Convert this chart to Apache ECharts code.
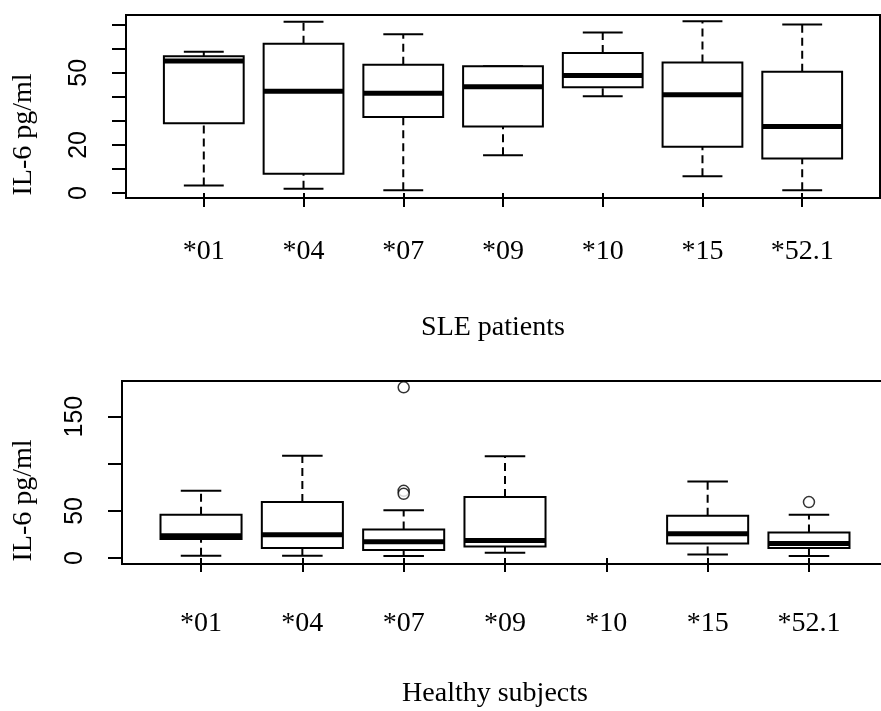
<!DOCTYPE html>
<html>
<head>
<meta charset="utf-8">
<script src="https://cdn.jsdelivr.net/npm/echarts@6/dist/echarts.min.js"></script>
<style>
html, body { margin: 0; padding: 0; background: #fff; }
#chart { width: 881px; height: 711px; }
</style>
</head>
<body>
<div id="chart"></div>
<script>
var groups = ['*01', '*04', '*07', '*09', '*10', '*15', '*52.1'];
// [lower whisker, Q1, median, Q3, upper whisker]
var sleStats = [
    [3.1, 29.0, 54.9, 56.9, 58.7],
    [1.8, 8.0, 42.3, 62.1, 71.2],
    [1.1, 31.6, 41.5, 53.3, 66.0],
    [15.7, 27.6, 44.2, 52.7, 52.7],
    [40.2, 44.0, 48.9, 58.2, 66.7],
    [7.0, 19.2, 40.8, 54.3, 71.4],
    [1.1, 14.3, 27.6, 50.4, 70.0]
];
var healthyStats = [
    [2.4, 20.1, 23.6, 45.9, 71.3],
    [2.4, 10.6, 24.7, 59.3, 108.4],
    [2.1, 8.5, 17.3, 30.3, 50.8],
    [5.6, 12.3, 18.6, 64.6, 108.0],
    null,
    [3.8, 15.5, 25.7, 44.8, 81.1],
    [2.1, 10.6, 15.5, 27.1, 45.9]
];
// [group position, value]
var healthyOutliers = [[3, 181.1], [3, 71.3], [3, 68.1], [7, 59.3]];
var sleTicks = [0, 10, 20, 30, 40, 50, 60, 70];
var sleLabels = [0, 20, 50];
var healthyTicks = [0, 50, 100, 150];
var healthyLabels = [0, 50, 150];

var positions = groups.map(function(g, i) { return i + 1; });

function toBoxData(stats) {
    var out = [];
    stats.forEach(function(s, i) {
        if (s) out.push([i + 1].concat(s));
    });
    return out;
}

function renderBox(params, api) {
    var x = api.value(0);
    var lo = api.coord([x, api.value(1)]);
    var q1 = api.coord([x, api.value(2)]);
    var md = api.coord([x, api.value(3)]);
    var q3 = api.coord([x, api.value(4)]);
    var hi = api.coord([x, api.value(5)]);
    var w = api.size([0.8, 0])[0];
    var cx = lo[0];
    var dash = { stroke: '#000', lineWidth: 2, lineDash: [8, 5] };
    var solid = { stroke: '#000', lineWidth: 2 };
    return {
        type: 'group',
        children: [
            { type: 'line', shape: { x1: cx, y1: q3[1], x2: cx, y2: hi[1] }, style: dash },
            { type: 'line', shape: { x1: cx, y1: lo[1], x2: cx, y2: q1[1] }, style: dash },
            { type: 'line', shape: { x1: cx - w / 4, y1: hi[1], x2: cx + w / 4, y2: hi[1] }, style: solid },
            { type: 'line', shape: { x1: cx - w / 4, y1: lo[1], x2: cx + w / 4, y2: lo[1] }, style: solid },
            { type: 'rect', shape: { x: cx - w / 2, y: q3[1], width: w, height: q1[1] - q3[1] },
              style: { fill: '#fff', stroke: '#000', lineWidth: 2 } },
            { type: 'line', shape: { x1: cx - w / 2, y1: md[1], x2: cx + w / 2, y2: md[1] },
              style: { stroke: '#000', lineWidth: 5 } }
        ]
    };
}

var tickStyle = { color: '#000', width: 2 };
var serif = 'Liberation Serif';
var sans = 'Liberation Sans';

function xAxisFor(idx, title, margin) {
    return {
        gridIndex: idx, type: 'value', min: 0.22, max: 7.78,
        splitLine: { show: false }, axisLine: { show: false },
        axisTick: { show: true, length: 14, customValues: positions, lineStyle: tickStyle },
        axisLabel: {
            customValues: positions, margin: margin,
            formatter: function(v) { return groups[Math.round(v) - 1]; },
            fontFamily: serif, fontSize: 28, color: '#000'
        },
        name: title, nameLocation: 'middle', nameGap: 116,
        nameTextStyle: { fontFamily: serif, fontSize: 28, color: '#000', padding: [0, 20, 0, 0] }
    };
}

function yAxisFor(idx, min, max, ticks, labels, gap) {
    return {
        gridIndex: idx, type: 'value', min: min, max: max,
        splitLine: { show: false }, axisLine: { show: false },
        axisTick: { show: true, length: 14, customValues: ticks, lineStyle: tickStyle },
        axisLabel: {
            customValues: labels, rotate: 90, margin: 34,
            fontFamily: sans, fontSize: 25, color: '#000'
        },
        name: 'IL-6 pg/ml', nameLocation: 'middle', nameGap: gap,
        nameTextStyle: { fontFamily: serif, fontSize: 28, color: '#000', padding: [0, 56, 0, 0] }
    };
}

var chart = echarts.init(document.getElementById('chart'));
chart.setOption({
    backgroundColor: '#fff',
    animation: false,
    grid: [
        { left: 126, top: 15, width: 754, height: 183, outerBoundsMode: 'none',
          show: true, borderColor: '#000', borderWidth: 2 },
        { left: 122, top: 381, width: 766, height: 183, outerBoundsMode: 'none',
          show: true, borderColor: '#000', borderWidth: 2 }
    ],
    xAxis: [xAxisFor(0, 'SLE patients', 40), xAxisFor(1, 'Healthy subjects', 46)],
    yAxis: [
        yAxisFor(0, -2.07, 74.0, sleTicks, sleLabels, 88),
        yAxisFor(1, -6.36, 187.8, healthyTicks, healthyLabels, 84)
    ],
    series: [
        { type: 'custom', xAxisIndex: 0, yAxisIndex: 0, renderItem: renderBox,
          encode: { x: 0, y: [1, 2, 3, 4, 5] }, data: toBoxData(sleStats) },
        { type: 'custom', xAxisIndex: 1, yAxisIndex: 1, renderItem: renderBox,
          encode: { x: 0, y: [1, 2, 3, 4, 5] }, data: toBoxData(healthyStats) },
        { type: 'scatter', xAxisIndex: 1, yAxisIndex: 1, symbol: 'circle', symbolSize: 11,
          itemStyle: { color: '#fff', borderColor: '#000', borderWidth: 1.5 },
          data: healthyOutliers }
    ]
});
</script>
</body>
</html>
